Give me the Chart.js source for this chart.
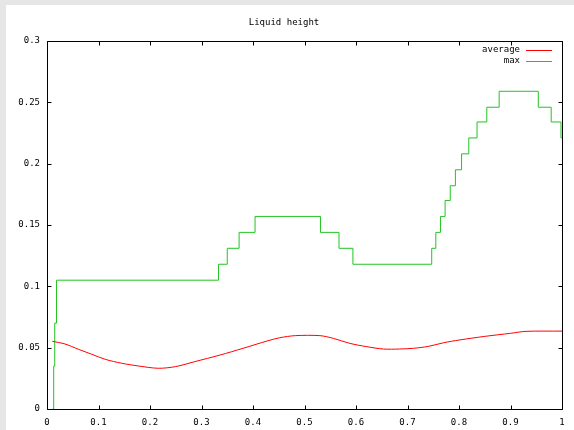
<!DOCTYPE html>
<html>
<head>
<meta charset="utf-8">
<script src="https://cdn.jsdelivr.net/npm/chart.js@4/dist/chart.umd.min.js"></script>
<style>
  html, body { margin: 0; padding: 0; background: #e6e6e6; }
  #panel { position: absolute; left: 6px; top: 5px; width: 568px; height: 425px; background: #ffffff; }
  canvas { display: block; }
</style>
</head>
<body>
<div id="panel"><canvas id="c" width="568" height="425"></canvas></div>
<script>
const chartTitle = "Liquid height";
const seriesLabels = ["average", "max"];

const avgX = [0.0103, 0.035, 0.061, 0.087, 0.113, 0.145, 0.177, 0.216, 0.249, 0.287, 0.336, 0.381, 0.427, 0.452, 0.482, 0.530, 0.556, 0.588, 0.621, 0.653, 0.685, 0.712, 0.74, 0.77, 0.80, 0.85, 0.90, 0.93, 1.0];
const avgY = [0.0552, 0.0530, 0.0487, 0.0446, 0.0405, 0.0373, 0.0351, 0.0332, 0.0345, 0.0386, 0.0440, 0.0495, 0.0554, 0.0581, 0.0598, 0.0598, 0.0576, 0.0535, 0.0508, 0.0489, 0.0489, 0.0495, 0.0510, 0.0540, 0.0562, 0.0592, 0.0617, 0.0633, 0.0635];

const maxX = [0.011, 0.013, 0.015, 0.0185, 0.333, 0.350, 0.373, 0.404, 0.531, 0.567, 0.594, 0.747, 0.755, 0.764, 0.773, 0.783, 0.793, 0.805, 0.819, 0.835, 0.854, 0.878, 0.954, 0.979, 0.998, 1.0];
const maxY = [0, 0.035, 0.070, 0.105, 0.118, 0.131, 0.144, 0.157, 0.144, 0.131, 0.118, 0.131, 0.144, 0.157, 0.170, 0.182, 0.195, 0.208, 0.221, 0.234, 0.246, 0.259, 0.246, 0.234, 0.221, 0.221];

const xTicks = [0, 0.1, 0.2, 0.3, 0.4, 0.5, 0.6, 0.7, 0.8, 0.9, 1];
const yTicks = [0, 0.05, 0.1, 0.15, 0.2, 0.25, 0.3];

const FONT = "'DejaVu Sans Mono', monospace";
const colors = ["#ff0000", "#22c422"];

const boxPlugin = {
  id: 'gnuBox',
  afterDraw(chart) {
    const ctx = chart.ctx;
    const a = chart.chartArea;
    const xs = chart.scales.x, ys = chart.scales.y;
    const L = Math.round(a.left) + 0.5, R = Math.round(a.right) + 0.5;
    const T = Math.round(a.top) + 0.5, B = Math.round(a.bottom) + 0.5;
    ctx.save();
    ctx.strokeStyle = '#000';
    ctx.lineWidth = 1;
    ctx.beginPath();
    ctx.rect(L, T, R - L, B - T);
    const tl = 4;
    xTicks.forEach(v => {
      const px = Math.round(xs.getPixelForValue(v)) + 0.5;
      ctx.moveTo(px, B); ctx.lineTo(px, B - tl);
      ctx.moveTo(px, T); ctx.lineTo(px, T + tl);
    });
    yTicks.forEach(v => {
      const py = Math.round(ys.getPixelForValue(v)) + 0.5;
      ctx.moveTo(L, py); ctx.lineTo(L + tl, py);
      ctx.moveTo(R, py); ctx.lineTo(R - tl, py);
    });
    ctx.stroke();
    // legend
    ctx.font = "9px " + FONT;
    ctx.textAlign = 'right';
    ctx.textBaseline = 'middle';
    chart.data.datasets.forEach((ds, i) => {
      const y = Math.round(a.top) + 9 + i * 11;
      ctx.fillStyle = '#000';
      ctx.fillText(ds.label, Math.round(a.right) - 42, y);
      ctx.strokeStyle = ds.borderColor;
      ctx.beginPath();
      ctx.moveTo(Math.round(a.right) - 36, y + 0.5);
      ctx.lineTo(Math.round(a.right) - 10, y + 0.5);
      ctx.stroke();
    });
    ctx.restore();
  }
};

const toPts = (xs, ys) => xs.map((x, i) => ({ x: x, y: ys[i] }));

new Chart(document.getElementById('c'), {
  type: 'line',
  data: {
    datasets: [
      { label: seriesLabels[0], data: toPts(avgX, avgY), borderColor: colors[0], borderWidth: 1, pointRadius: 0, tension: 0.3, fill: false },
      { label: seriesLabels[1], data: toPts(maxX, maxY), borderColor: colors[1], borderWidth: 1, pointRadius: 0, stepped: 'before', fill: false }
    ]
  },
  options: {
    responsive: false,
    animation: false,
    layout: { padding: { left: 0, right: 12, top: 0, bottom: 0 } },
    plugins: {
      legend: { display: false },
      tooltip: { enabled: false },
      title: {
        display: true, text: chartTitle, color: '#000',
        font: { family: FONT, size: 9, weight: 'normal' },
        padding: { top: 12, bottom: 13.2 }
      }
    },
    scales: {
      x: {
        type: 'linear', min: 0, max: 1,
        afterFit(s) { s.height = 21; },
        afterBuildTicks(s) { s.ticks = xTicks.map(v => ({ value: v })); },
        grid: { display: false, drawTicks: false },
        border: { display: false },
        ticks: { color: '#000', font: { family: FONT, size: 9 }, padding: 8, maxRotation: 0, autoSkip: false,
          callback: v => String(Number(v.toFixed(2))) }
      },
      y: {
        type: 'linear', min: 0, max: 0.3,
        afterFit(s) { s.width = 41; },
        afterBuildTicks(s) { s.ticks = yTicks.map(v => ({ value: v })); },
        grid: { display: false, drawTicks: false },
        border: { display: false },
        ticks: { color: '#000', font: { family: FONT, size: 9 }, padding: 7, autoSkip: false,
          callback: v => String(Number(v.toFixed(2))) }
      }
    }
  },
  plugins: [boxPlugin]
});
</script>
</body>
</html>
